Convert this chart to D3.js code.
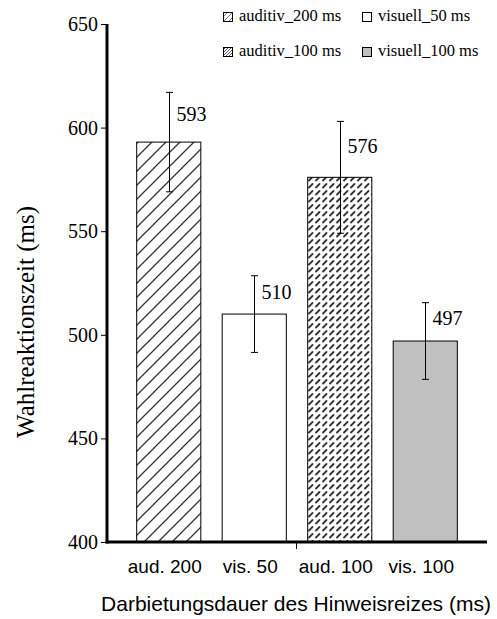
<!DOCTYPE html>
<html><head><meta charset="utf-8">
<script src="https://cdn.jsdelivr.net/npm/d3@7"></script>
<style>html,body{margin:0;padding:0;background:#fff;}
.serif{font-family:"Liberation Serif","Times New Roman",Times,serif;}
.sans{font-family:"Liberation Sans",Arial,Helvetica,sans-serif;}
</style>
</head><body>
<svg id="chart" width="497" height="619"></svg>
<script>
const categories = ["aud. 200", "vis. 50", "aud. 100", "vis. 100"];
const means = [593, 510, 576, 497];
const errors = [24, 18.5, 27, 18.5];
const fillKeys = ["hatch", "white", "dense", "grey"];
const legendLabels = ["auditiv_200 ms", "visuell_50 ms", "auditiv_100 ms", "visuell_100 ms"];
const legendKeys = ["hatch", "white", "dense", "grey"];
const yTicks = [400, 450, 500, 550, 600, 650];

const svg = d3.select("#chart");
const defs = svg.append("defs");
const ph = defs.append("pattern").attr("id","hatch").attr("patternUnits","userSpaceOnUse")
  .attr("width",14).attr("height",14);
ph.append("rect").attr("width",14).attr("height",14).attr("fill","#fff");
ph.append("path").attr("d","M-1,15 L15,-1 M-8,8 L8,-8 M6,22 L22,6").attr("stroke","#333").attr("stroke-width",1.3);
const pd = defs.append("pattern").attr("id","dense").attr("patternUnits","userSpaceOnUse")
  .attr("width",7).attr("height",7);
pd.append("rect").attr("width",7).attr("height",7).attr("fill","#fff");
pd.append("path").attr("d","M1,5.5 L4.5,2").attr("stroke","#333").attr("stroke-width",1.8).attr("stroke-linecap","round");
// small legend versions
const lh = defs.append("pattern").attr("id","hatchL").attr("patternUnits","userSpaceOnUse")
  .attr("width",5).attr("height",5);
lh.append("rect").attr("width",5).attr("height",5).attr("fill","#fff");
lh.append("path").attr("d","M-1,6 L6,-1").attr("stroke","#555").attr("stroke-width",0.8);
const ld = defs.append("pattern").attr("id","denseL").attr("patternUnits","userSpaceOnUse")
  .attr("width",3).attr("height",3);
ld.append("rect").attr("width",3).attr("height",3).attr("fill","#fff");
ld.append("path").attr("d","M0,3 L3,0").attr("stroke","#444").attr("stroke-width",0.9);

const fillFor = (k, leg) => k === "hatch" ? (leg ? "url(#hatchL)" : "url(#hatch)")
  : k === "dense" ? (leg ? "url(#denseL)" : "url(#dense)") : k === "grey" ? "#c0c0c0" : "#fff";

const x = d3.scaleBand().domain(categories).range([126, 468]).paddingInner(0.25).paddingOuter(0.125);
const y = d3.scaleLinear().domain([400, 650]).range([542, 24]);

// bars
svg.selectAll(".bar").data(categories).enter().append("rect")
  .attr("x", d => x(d)).attr("width", x.bandwidth())
  .attr("y", (d,i) => y(means[i])).attr("height", (d,i) => y(400) - y(means[i]))
  .attr("fill", (d,i) => fillFor(fillKeys[i])).attr("stroke","#000").attr("stroke-width",1);

// error bars
const eb = svg.append("g").attr("stroke","#000").attr("stroke-width",1);
categories.forEach((c,i) => {
  const cx = Math.round(x(c) + x.bandwidth()/2) + 0.5;
  eb.append("line").attr("x1",cx).attr("x2",cx).attr("y1",y(means[i]+errors[i])).attr("y2",y(means[i]-errors[i]));
  eb.append("line").attr("x1",cx-3.5).attr("x2",cx+3.5).attr("y1",y(means[i]+errors[i])).attr("y2",y(means[i]+errors[i]));
  eb.append("line").attr("x1",cx-3.5).attr("x2",cx+3.5).attr("y1",y(means[i]-errors[i])).attr("y2",y(means[i]-errors[i]));
  svg.append("text").attr("class","serif").attr("x", cx + 7).attr("y", (y(means[i]+errors[i]) + y(means[i]))/2 - 1)
    .attr("dominant-baseline","middle").attr("font-size",20)
    .text(means[i]);
});

// y axis
const yAxis = d3.axisLeft(y).tickValues(yTicks).tickSize(6).tickPadding(3).tickFormat(d3.format("d"));
const gy = svg.append("g").attr("transform","translate(107,0)").call(yAxis);
gy.select(".domain").remove();
gy.selectAll("text").attr("class","serif").attr("font-size",20).attr("fill","#000");
gy.attr("font-family",null);
svg.append("line").attr("x1",107).attr("x2",107).attr("y1",y(650)).attr("y2",y(400)+1.5)
  .attr("stroke","#000").attr("stroke-width",3);

// x axis
svg.append("line").attr("x1",105.5).attr("x2",487).attr("y1",y(400)).attr("y2",y(400))
  .attr("stroke","#000").attr("stroke-width",3);
svg.append("line").attr("x1",296.5).attr("x2",296.5).attr("y1",y(400)).attr("y2",y(400)+7)
  .attr("stroke","#000").attr("stroke-width",1);
svg.selectAll(".xl").data(categories).enter().append("text").attr("class","sans")
  .attr("x", d => x(d) + x.bandwidth()/2 - 4).attr("y", 568).attr("text-anchor","middle")
  .attr("dominant-baseline","middle").attr("font-size",19)
  .text(d => d);

// titles
svg.append("text").attr("class","sans").attr("x", 296).attr("y", 605).attr("text-anchor","middle").attr("dominant-baseline","middle")
  .attr("font-size",21).text("Darbietungsdauer des Hinweisreizes (ms)");
svg.append("text").attr("class","serif").attr("transform","translate(28,322) rotate(-90)").attr("text-anchor","middle")
  .attr("dominant-baseline","middle").attr("font-size",25)
  .text("Wahlreaktionszeit (ms)");

// legend
const lx = [228, 367], ly = [17, 52];
legendLabels.forEach((lab,i) => {
  const cxp = lx[i % 2], cyp = ly[Math.floor(i/2)];
  svg.append("rect").attr("x", cxp - 4.5).attr("y", cyp - 4.5).attr("width",9).attr("height",9)
    .attr("fill", fillFor(legendKeys[i], true)).attr("stroke","#000").attr("stroke-width",1);
  svg.append("text").attr("class","serif").attr("x", cxp + 11).attr("y", cyp).attr("dominant-baseline","middle")
    .attr("font-size",16.5).text(lab);
});
</script>
</body></html>
